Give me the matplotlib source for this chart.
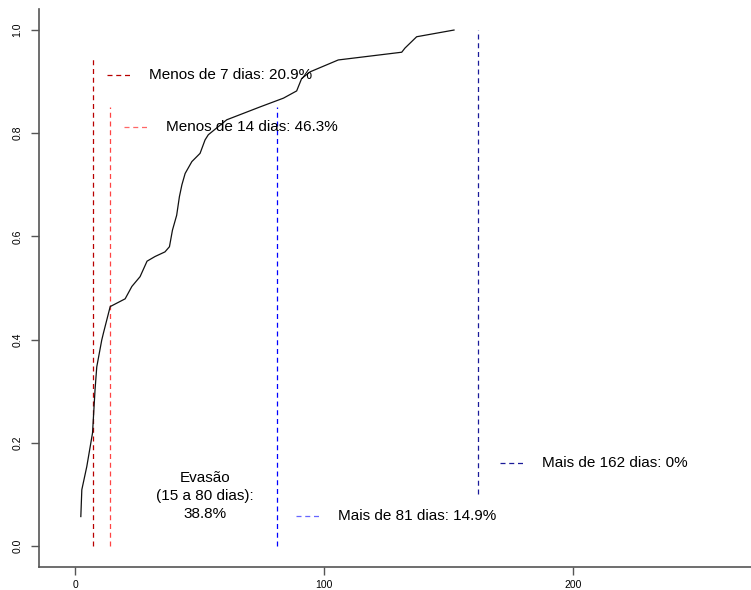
import matplotlib.pyplot as plt

# cumulative curve (days vs proportion)
dias = [2.3, 2.7, 4.7, 7.0, 8.0, 8.7, 10.7, 11.4, 14.1, 20.1, 22.8, 26.1, 28.9,
        32.1, 36.1, 37.9, 39.1, 40.8, 41.9, 42.9, 44.2, 46.9, 50.2, 52.2, 53.5,
        60.9, 74.3, 83.7, 89.0, 91.0, 94.4, 105.7, 131.2, 132.5, 137.2, 152.2]
prop = [0.057, 0.109, 0.154, 0.219, 0.302, 0.347, 0.399, 0.413, 0.464, 0.479,
        0.503, 0.522, 0.552, 0.561, 0.570, 0.580, 0.612, 0.641, 0.677, 0.700,
        0.722, 0.745, 0.761, 0.787, 0.797, 0.826, 0.851, 0.868, 0.882, 0.906,
        0.919, 0.942, 0.957, 0.965, 0.987, 1.0]

# vertical cut lines
cortes = [7, 14, 81, 162]
corte_ini = [0, 0, 0, 0.1]
corte_fim = [0.95, 0.85, 0.85, 1.0]
cores = ['#b80000', '#ff4444', '#0000ff', '#1a1a99']

# legend-like labels
rotulos = ['Menos de 7 dias: 20.9%', 'Menos de 14 dias: 46.3%',
           'Mais de 81 dias: 14.9%', 'Mais de 162 dias: 0%']
rot_x = [12.9, 19.7, 88.8, 170.7]
rot_y = [0.913, 0.812, 0.058, 0.161]
rot_cores = ['#b80000', '#ff6666', '#6666ff', '#1a1a99']

evasao = 'Evasão\n(15 a 80 dias):\n38.8%'

plt.rcParams['font.family'] = ['Liberation Sans', 'DejaVu Sans']
fig = plt.figure(figsize=(7.51, 5.90), dpi=100)
ax = fig.add_axes([39 / 751, (590 - 566.6) / 590, 1 - 39 / 751, (566.6 - 9.4) / 590])

dash = (0, (4, 3))
for x, y0, y1, c in zip(cortes, corte_ini, corte_fim, cores):
    ax.plot([x, x], [y0, y1], color=c, lw=0.9, linestyle=dash)

ax.plot(dias, prop, color='#111111', lw=0.9)

for txt, x, y, c in zip(rotulos, rot_x, rot_y, rot_cores):
    ax.plot([x, x + 10], [y, y], color=c, lw=0.9, linestyle=dash)
    ax.text(x + 16.8, y, txt, fontsize=11, va='center', ha='left')

ax.text(52.2, 0.097, evasao, fontsize=11, ha='center', va='center', linespacing=1.35)

ax.set_xlim(-14.5, 271.5)
ax.set_ylim(-0.04, 1.04)
ax.set_xticks([0, 100, 200])
ax.set_yticks([0, 0.2, 0.4, 0.6, 0.8, 1.0])
ax.set_yticklabels(['0.0', '0.2', '0.4', '0.6', '0.8', '1.0'], rotation=90, va='center')
ax.tick_params(labelsize=7.5, length=6, width=1, color='#555555', pad=4)
ax.tick_params(axis='y', pad=6)
for s in ['top', 'right']:
    ax.spines[s].set_visible(False)
for s in ['left', 'bottom']:
    ax.spines[s].set_color('#555555')
    ax.spines[s].set_linewidth(1.2)

fig.savefig('out.png', dpi=100)
